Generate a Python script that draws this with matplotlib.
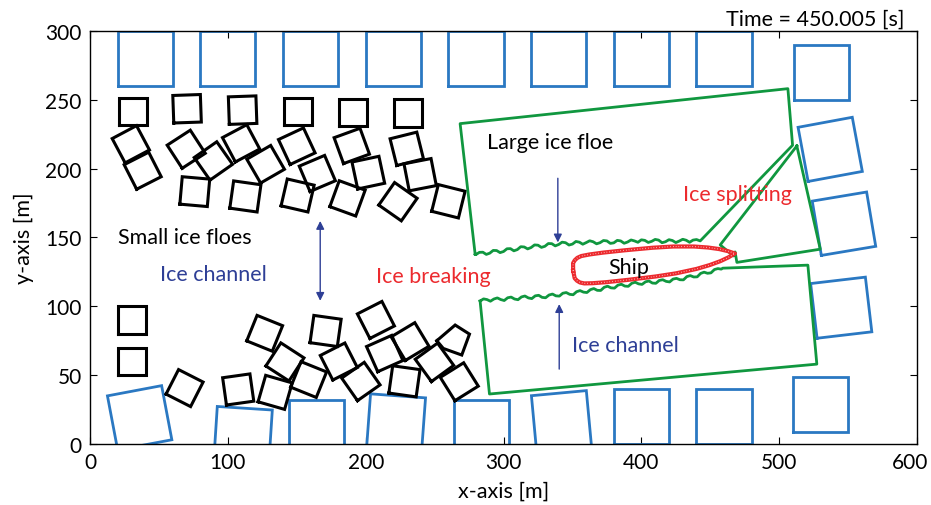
import numpy as np
import matplotlib.pyplot as plt
import matplotlib.transforms as mtransforms

plt.rcParams['font.family'] = ['Lato', 'DejaVu Sans']

# large (blue) floes, 40 m squares: centre x, centre y, rotation in degrees
big_x = [40, 100, 160, 220, 280, 340, 400, 460, 531, 537, 547, 545, 530,
         36, 111, 164, 222, 284, 342, 400, 460]
big_y = [280, 280, 280, 280, 280, 280, 280, 280, 270, 214, 160, 99, 29,
         19, 6, 12, 15, 12, 17, 20, 20]
big_ang = [0, 0, 0, 0, 0, 0, 0, 0, 0, 10.5, 9.5, 6.7, 0,
           10.7, -3.7, 0, -4.2, 0, 5.3, 0, 0]

# small (black) floes, 20 m squares
small_x = [31, 70.4, 110.7, 150.8, 190.9, 230.8, 29.6, 38.2, 69.8, 89.5, 76,
           109.6, 127.4, 112.7, 150, 164.9, 150.6, 189.9, 201.9, 186.8, 229.8,
           239.5, 223.4, 260, 30.3, 30.3, 68.6, 107.5, 126.7, 141.4, 134.3,
           158.6, 170.9, 180.5, 196.5, 207.4, 213.8, 228.1, 232.2, 249.9, 267.9]
small_y = [241.5, 243.5, 242.5, 241.5, 240.7, 240.3, 217.7, 198.5, 214.1, 205.6,
           183.3, 218.4, 203.2, 179.8, 216.3, 196.5, 180.5, 216.5, 197.1, 178.4,
           214.4, 195.6, 176, 176.3, 90.1, 59.9, 40.6, 39.6, 80.4, 59.6, 37.5,
           46.8, 82.1, 59.9, 45.4, 90.1, 65.7, 45.5, 74.4, 59.3, 45.2]
small_ang = [0, 2, 2, 0, 0, 0, 28, 27, 33, 35, -5, 28, 30, -8, 25, 23, -13, 20,
             12, -20, 14, 11, -35, -14, 0, 0, -27, 8, -22, -33, -16, -22, -8,
             27, 35, 27, 24, -8, 31, 36, 32]

# broken small floe
piece_x = [251.6, 264.9, 275.3, 269.7, 256.3, 251.6]
piece_y = [75, 86.4, 79.8, 64.6, 69.4, 75]

# crack edges of the large ice floe
upper_crack_x = [442.7, 440, 437.5, 435, 432.5, 430, 427.5, 425, 422.5, 420,
                 417.5, 415, 412.5, 410, 407.5, 405, 402.5, 400, 397.5, 395,
                 392.5, 390, 387.5, 385, 382.5, 380, 377.5, 375, 372.5, 370,
                 367.5, 365, 362.5, 360, 357.5, 355, 352.5, 350, 347.5, 345,
                 342.5, 340, 337.5, 335, 332.5, 330, 327.5, 325, 322.5, 320,
                 317.5, 315, 312.5, 310, 307.5, 305, 302.5, 300, 297.5, 295,
                 292.5, 290, 287.5, 285, 282.5, 280, 279.4]
upper_crack_y = [147.5, 148.5, 148.1, 146.5, 148.0, 148.7, 147.4, 146.3, 147.8,
                 148.4, 146.9, 146.2, 148.1, 148.6, 147.2, 146.4, 147.9, 148.3,
                 146.5, 147.5, 148.2, 146.7, 145.8, 147.5, 147.9, 146.1, 145.7,
                 147.5, 147.8, 146.2, 145.4, 146.9, 147.6, 146.3, 145.1, 146.6,
                 147.1, 145.2, 144.5, 146.2, 146.6, 144.9, 143.9, 145.5, 145.6,
                 143.6, 142.8, 144.4, 144.6, 142.7, 141.7, 143.1, 143.3, 141.2,
                 140.3, 141.9, 141.8, 139.8, 139.0, 140.5, 140.6, 138.6, 137.7,
                 139.3, 139.2, 137.6, 137.9]
lower_crack_x = [283, 285.5, 288, 290.5, 293, 295.5, 298, 300.5, 303, 305.5,
                 308, 310.5, 313, 315.5, 318, 320.5, 323, 325.5, 328, 330.5,
                 333, 335.5, 338, 340.5, 343, 345.5, 348, 350.5, 353, 355.5,
                 358, 360.5, 363, 365.5, 368, 370.5, 373, 375.5, 378, 380.5,
                 383, 385.5, 388, 390.5, 393, 395.5, 398, 400.5, 403, 405.5,
                 408, 410.5, 413, 415.5, 418, 420.5, 423, 425.5, 428, 430.5,
                 433, 435.5, 438, 440.5, 443, 445.5, 448, 450.5, 453, 455.5,
                 458, 459]
lower_crack_y = [103.8, 105.4, 104.9, 103.7, 105.3, 106.1, 104.9, 104.2, 106.2,
                 106.7, 105.3, 104.8, 106.8, 107.5, 106.1, 105.6, 107.6, 108.0,
                 106.5, 106.2, 108.2, 108.9, 107.6, 107.4, 109.5, 110.0, 108.7,
                 108.4, 110.6, 111.4, 110.3, 110.0, 112.1, 112.9, 111.6, 111.5,
                 113.8, 114.6, 113.4, 113.2, 115.4, 116.0, 114.7, 114.5, 116.7,
                 117.5, 116.3, 115.9, 117.8, 118.4, 116.9, 116.7, 118.8, 119.3,
                 118.1, 117.7, 119.8, 120.3, 119.3, 119.2, 121.6, 122.3, 121.3,
                 121.4, 123.9, 124.8, 124.0, 124.3, 126.7, 127.4, 127.0, 127.7]

# outer corners of the large floe parts
upper_x = [279.4, 268.5, 506.3, 509.7, 442.7]
upper_y = [137.9, 232.7, 258.1, 217, 147.5]
split_x = [512.8, 529.8, 469.3, 468.0, 466.8, 457.2, 512.8]
split_y = [216.5, 141.5, 131.9, 139.5, 136.6, 144.6, 216.5]
lower_x = [459, 520.8, 527.3, 289.8, 283]
lower_y = [127.7, 129.9, 58, 36.3, 103.8]

# ship hull: position along axis and half width (m)
ship_cx, ship_cy, ship_ang = 409.2, 132.1, 6.1
ship_s = [-59, -58.5, -57, -55, -52, -46, -36, -20, 0, 15, 30, 40, 48, 54, 59]
ship_w = [0, 5.5, 7.5, 9, 10, 10.5, 10.8, 10.8, 10.5, 9.8, 8.2, 6.4, 4.4, 2.3, 0]

blue = '#2a78c2'
green = '#10973f'
red = '#ec2a2e'
navy = '#2e3f96'


def square(cx, cy, size, ang):
    t = np.deg2rad(ang)
    h = size / 2
    pts = np.array([[-h, -h], [h, -h], [h, h], [-h, h], [-h, -h]])
    rot = np.array([[np.cos(t), -np.sin(t)], [np.sin(t), np.cos(t)]])
    pts = pts @ rot.T
    return pts[:, 0] + cx, pts[:, 1] + cy


fig = plt.figure(figsize=(9.31, 5.06), dpi=100)
ax = fig.add_axes([0.0967, 0.1206, 0.8883, 0.8162])

for cx, cy, a in zip(big_x, big_y, big_ang):
    xs, ys = square(cx, cy, 40, a)
    ax.plot(xs, ys, color=blue, lw=2.0, solid_joinstyle='miter')

for cx, cy, a in zip(small_x, small_y, small_ang):
    xs, ys = square(cx, cy, 20, a)
    ax.plot(xs, ys, color='black', lw=2.2, solid_joinstyle='miter')
ax.plot(piece_x, piece_y, color='black', lw=2.2, solid_joinstyle='miter')

# large floe, split piece
ax.plot(upper_x + upper_crack_x[1:], upper_y + upper_crack_y[1:], color=green, lw=2.0)
ax.plot(split_x, split_y, color=green, lw=2.0)
ax.plot(lower_crack_x + lower_x, lower_crack_y + lower_y, color=green, lw=2.0)

# ship
t = np.deg2rad(ship_ang)
s = np.array(ship_s + ship_s[::-1])
w = np.array(ship_w + [-v for v in ship_w[::-1]])
hx = ship_cx + s * np.cos(t) - w * np.sin(t)
hy = ship_cy + s * np.sin(t) + w * np.cos(t)
ax.plot(hx, hy, color=red, lw=3.0)
ax.plot(hx, hy, color='white', lw=0.8, dashes=(0.5, 2.0))

fs = 15.5
ax.text(20.3, 150.2, 'Small ice floes', fontsize=fs, color='black', va='center')
ax.text(50.8, 123.4, 'Ice channel', fontsize=fs, color=navy, va='center')
ax.text(207.5, 121.9, 'Ice breaking', fontsize=fs, color=red, va='center')
ax.text(287.8, 219, 'Large ice floe', fontsize=fs, color='black', va='center')
ax.text(430, 181.4, 'Ice splitting', fontsize=fs, color=red, va='center')
ax.text(390.5, 128.4, 'Ship', fontsize=fs, color='black', va='center', ha='center')
ax.text(349.5, 71.8, 'Ice channel', fontsize=fs, color=navy, va='center')

arrow = dict(arrowstyle='-|>', color=navy, lw=1.0, mutation_scale=12, shrinkA=0, shrinkB=0)
ax.annotate('', xy=(339.4, 146.4), xytext=(339.4, 193), arrowprops=arrow)
ax.annotate('', xy=(340.4, 101.6), xytext=(340.4, 54.4), arrowprops=arrow)
ax.annotate('', xy=(167, 104), xytext=(167, 162),
            arrowprops=dict(arrowstyle='<|-|>', color=navy, lw=1.0,
                            mutation_scale=12, shrinkA=0, shrinkB=0))

ax.set_xlim(0, 600)
ax.set_ylim(0, 300)
ax.set_xticks(range(0, 601, 100))
ax.set_yticks(range(0, 301, 50))
ax.tick_params(direction='in', top=True, right=True, length=5, width=0.8,
               labelsize=15, pad=6)
for sp in ax.spines.values():
    sp.set_linewidth(1.0)
ax.set_xlabel('x-axis [m]', fontsize=fs, labelpad=6)
ax.set_ylabel('y-axis [m]', fontsize=fs, labelpad=8)

# keep the last x tick label inside the figure
last = ax.get_xticklabels()[-1]
last.set_transform(last.get_transform() +
                   mtransforms.ScaledTranslation(-0.07, 0, fig.dpi_scale_trans))

fig.text(0.972, 0.962, 'Time = 450.005 [s]', fontsize=fs, ha='right', va='center')

fig.savefig('out.png', dpi=100)
